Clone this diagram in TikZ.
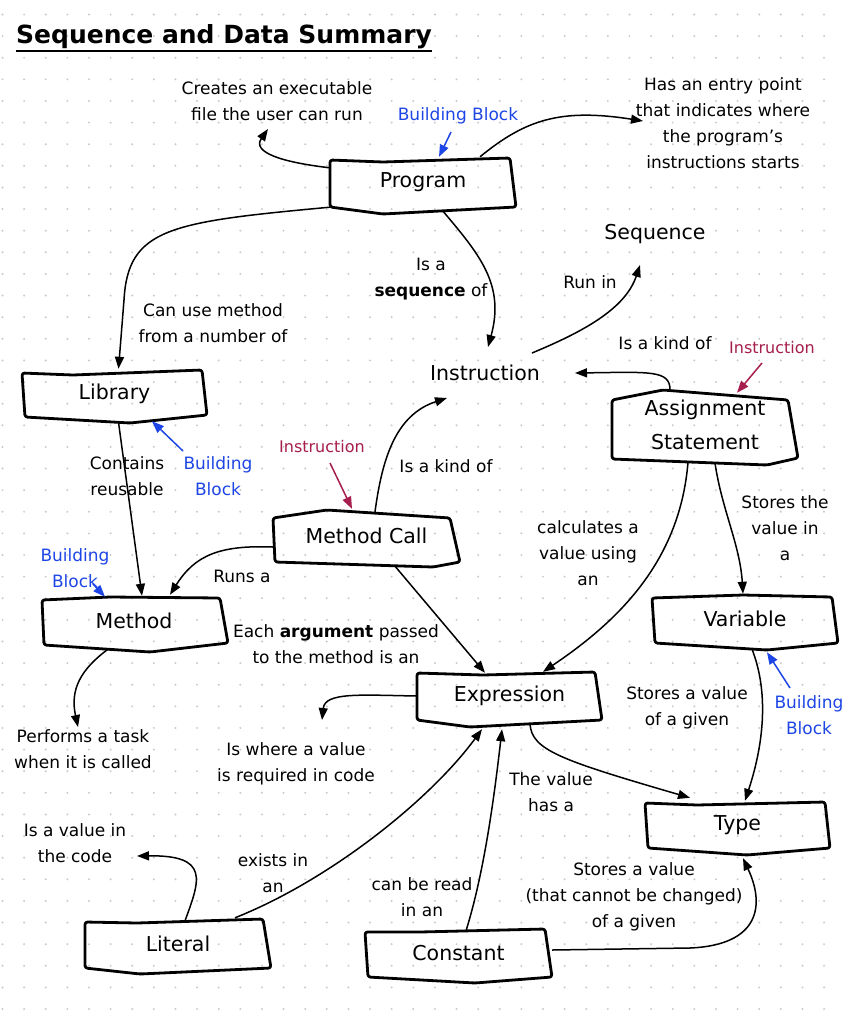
\documentclass[tikz,border=0pt]{standalone}
\usepackage{fontspec}
\setmainfont{DejaVu Sans}
\usetikzlibrary{arrows.meta,calc}
\definecolor{bbblue}{HTML}{1E46E6}
\definecolor{inpurple}{HTML}{A61E4D}
\definecolor{dotgray}{HTML}{CACACA}
\begin{document}
\begin{tikzpicture}[x=1pt,y=-1pt,
  txt/.style={align=center, inner sep=0pt, font=\fontsize{17}{26}\selectfont},
  bigtxt/.style={align=center, inner sep=0pt, font=\fontsize{20.5}{34}\selectfont},
  bluetxt/.style={txt, text=bbblue},
  purptxt/.style={align=center, inner sep=0pt, text=inpurple, font=\fontsize{16}{26}\selectfont},
  boxnode/.style={rectangle, inner sep=0pt, align=center, font=\fontsize{20.5}{34}\selectfont},
  boxline/.style={line width=2.8pt, line join=round, rounded corners=2.5pt},
  conn/.style={line width=1.5pt, -{Triangle[length=12pt,width=9pt]}},
  bconn/.style={conn, draw=bbblue},
  pconn/.style={conn, draw=inpurple}]
\useasboundingbox (0,0) rectangle (846,1026);
\fill[white] (0,0) rectangle (846,1026);
\foreach \i in {0,...,38} \foreach \j in {0,...,47}
  \fill[dotgray] (2.5+21.62*\i, 14.5+21.62*\j) circle (1.1);

% title
\node[anchor=west, inner sep=0pt, font=\fontsize{25}{30}\selectfont\bfseries] (title) at (16,37) {Sequence and Data Summary};
\draw[line width=1.8pt] ($(title.west)+(0,14)$) -- ($(title.east)+(0,14)$);

% boxes
\node[boxnode, minimum width=186, minimum height=49] (prog) at (423,182.5) {Program};
\draw[boxline] (330,160) -- (383,162) -- (510,158) -- (516,207) -- (383,214) -- (330,207) -- cycle;
\node[boxnode, minimum width=185, minimum height=47] (lib) at (114.5,393.5) {Library};
\draw[boxline] (22,373) -- (73,375) -- (202,370) -- (207,415) -- (130,423) -- (25,417) -- cycle;
\node[boxnode, minimum width=188, minimum height=48] (meth) at (134,621) {Method};
\draw[boxline] (42,600) -- (110,597) -- (220,598) -- (228,643) -- (150,652) -- (44,645) -- cycle;
\node[boxnode, minimum width=187, minimum height=52] (mcall) at (366.5,536) {Method Call};
\draw[boxline] (273,518) -- (327,510) -- (450,518) -- (460,562) -- (433,567) -- (275,562) -- cycle;
\node[boxnode, minimum width=186, minimum height=69] (asg) at (705,424.5) {Assignment\\Statement};
\draw[boxline] (612,400) -- (663,390) -- (788,400) -- (798,458) -- (767,465) -- (612,459) -- cycle;
\node[boxnode, minimum width=186, minimum height=48] (var) at (745,619) {Variable};
\draw[boxline] (652,598) -- (743,595) -- (832,597) -- (838,643) -- (767,650) -- (655,643) -- cycle;
\node[boxnode, minimum width=185, minimum height=48] (expr) at (509.5,696) {Expression};
\draw[boxline] (417,673) -- (483,675) -- (595,672) -- (602,720) -- (470,727) -- (417,720) -- cycle;
\node[boxnode, minimum width=185, minimum height=46] (type) at (737.5,825) {Type};
\draw[boxline] (645,803) -- (697,805) -- (825,802) -- (830,848) -- (747,855) -- (648,848) -- cycle;
\node[boxnode, minimum width=186, minimum height=49] (lit) at (178,943.5) {Literal};
\draw[boxline] (85,922) -- (137,923) -- (263,919) -- (271,968) -- (140,974) -- (85,968) -- cycle;
\node[boxnode, minimum width=187, minimum height=48] (const) at (458.5,953) {Constant};
\draw[boxline] (365,932) -- (420,932) -- (545,929) -- (552,977) -- (475,983) -- (368,977) -- cycle;

% plain texts
\node[txt] (creates) at (277,101) {Creates an executable\\file the user can run};
\node[bluetxt] (bbprog) at (458,116) {Building Block};
\node[txt] (entry) at (723,123) {Has an entry point\\that indicates where\\the program's\\instructions starts};
\node[bigtxt] (seq) at (655,234) {Sequence};
\node[txt] (isaseq) at (431,279) {Is a\\\textbf{sequence} of};
\node[txt] (runin) at (590,282) {Run in};
\node[txt] (kind1) at (665,343) {Is a kind of};
\node[purptxt] (pinstr1) at (772,348) {Instruction};
\node[bigtxt] (instr) at (485,373) {Instruction};
\node[txt] (canuse) at (213,323) {Can use method\\from a number of};
\node[txt] (contains) at (127,476) {Contains\\reusable};
\node[bluetxt] (bblib) at (218,476) {Building\\Block};
\node[bluetxt] (bbmeth) at (75,568) {Building\\Block};
\node[purptxt] (pinstr2) at (322,447) {Instruction};
\node[txt] (kind2) at (446,466) {Is a kind of};
\node[txt] (calc) at (588,553) {calculates a\\value using\\an};
\node[txt] (storesthe) at (785,528) {Stores the\\value in\\a};
\node[txt] (runsa) at (242,576) {Runs a};
\node[txt] (each) at (336,644) {Each \textbf{argument} passed\\to the method is an};
\node[bluetxt] (bbvar) at (809,715) {Building\\Block};
\node[txt] (storesgiven) at (687,708) {Stores a value\\of a given};
\node[txt] (performs) at (83,749) {Performs a task\\when it is called};
\node[txt] (where) at (296,764) {Is where a value\\is required in code};
\node[txt] (thevalue) at (551,792) {The value\\has a};
\node[txt] (isvalue) at (75,843) {Is a value in\\the code};
\node[txt] (exists) at (273,873) {exists in\\an};
\node[txt] (canread) at (422,897.5) {can be read\\in an};
\node[txt] (storesconst) at (634,896.5) {Stores a value\\(that cannot be changed)\\of a given};

% free ends
\coordinate (cCreate) at (268,129);
\coordinate (cEntry) at (643,121);
\coordinate (cBBprog) at (451,132);
\coordinate (cInstrTop) at (488,347);
\coordinate (cInstrRight) at (532,353);
\coordinate (cSeq) at (640,265);
\coordinate (cInstrR2) at (575,373);
\coordinate (cPinstr1) at (762,363);
\coordinate (cBBlib) at (183,451);
\coordinate (cBBmeth) at (93,584);
\coordinate (cInstrBot) at (447,398);
\coordinate (cPinstr2) at (330,463);
\coordinate (cBBvar) at (790,688);
\coordinate (cPerf) at (78,727);
\coordinate (cWhere) at (322,720);
\coordinate (cIsVal) at (137,856);

% connectors
\draw[conn] ($(prog.north west)+(0,10)$) .. controls (280,162) and (252,152) .. (cCreate);
\draw[conn] ($(prog.north)+(57,-1)$) .. controls (525,120) and (560,108) .. (cEntry);
\draw[bconn] (cBBprog) -- ($(prog.north)+(16,-1)$);
\draw[conn] (prog.south west) .. controls (170,222) and (128,228) .. (124,300) -- ($(lib.north)+(4,-1)$);
\draw[conn] ($(prog.south)+(20,4)$) .. controls (480,255) and (505,285) .. (cInstrTop);
\draw[conn] (cInstrRight) .. controls (580,333) and (625,310) .. (cSeq);
\draw[conn] ($(asg.north)+(-35,0)$) .. controls (670,370) and (650,372) .. (cInstrR2);
\draw[pconn] (cPinstr1) -- ($(asg.north)+(32,3)$);
\draw[conn] ($(lib.south)+(4,5)$) -- ($(meth.north)+(8,-1)$);
\draw[bconn] (cBBlib) -- ($(lib.south)+(37.5,4)$);
\draw[bconn] (cBBmeth) -- ($(meth.north)+(-29,0)$);
\draw[conn] ($(mcall.west)+(0,11)$) .. controls (220,545) and (195,555) .. ($(meth.north)+(36,-2)$);
\draw[conn] ($(mcall.north)+(8.5,2)$) .. controls (382,460) and (395,415) .. (cInstrBot);
\draw[pconn] (cPinstr2) -- ($(mcall.north)+(-14.5,-1)$);
\draw[conn] ($(mcall.south)+(28.5,4)$) -- ($(expr.north)+(-24.5,1)$);
\draw[conn] ($(asg.south)+(-17,3)$) .. controls (680,560) and (620,620) .. ($(expr.north)+(33.5,0)$);
\draw[conn] ($(asg.south)+(10,4)$) .. controls (722,510) and (740,545) .. ($(var.north)+(-2,-1)$);
\draw[conn] ($(var.south)+(7,6)$) .. controls (768,690) and (765,740) .. ($(type.north)+(7.5,-1)$);
\draw[bconn] (cBBvar) -- ($(var.south)+(22,9)$);
\draw[conn] ($(meth.south)+(-26,4)$) .. controls (80,670) and (70,690) .. (cPerf);
\draw[conn] (expr.west) .. controls (360,695) and (325,692) .. (cWhere);
\draw[conn] ($(expr.south)+(20.5,4)$) .. controls (532,750) and (560,760) .. ($(type.north)+(-47.5,-4)$);
\draw[conn] ($(lit.north)+(57,-1)$) .. controls (330,880) and (430,800) .. ($(expr.south)+(-27.5,9)$);
\draw[conn] ($(lit.north)+(7,2)$) .. controls (200,880) and (210,855) .. (cIsVal);
\draw[conn] ($(const.north)+(7.5,2)$) .. controls (485,870) and (495,790) .. ($(expr.south)+(-7.5,9)$);
\draw[conn] ($(const.east)+(0,-3)$) -- (690,948) .. controls (760,945) and (765,905) .. ($(type.south)+(5.5,10)$);
\end{tikzpicture}
\end{document}
